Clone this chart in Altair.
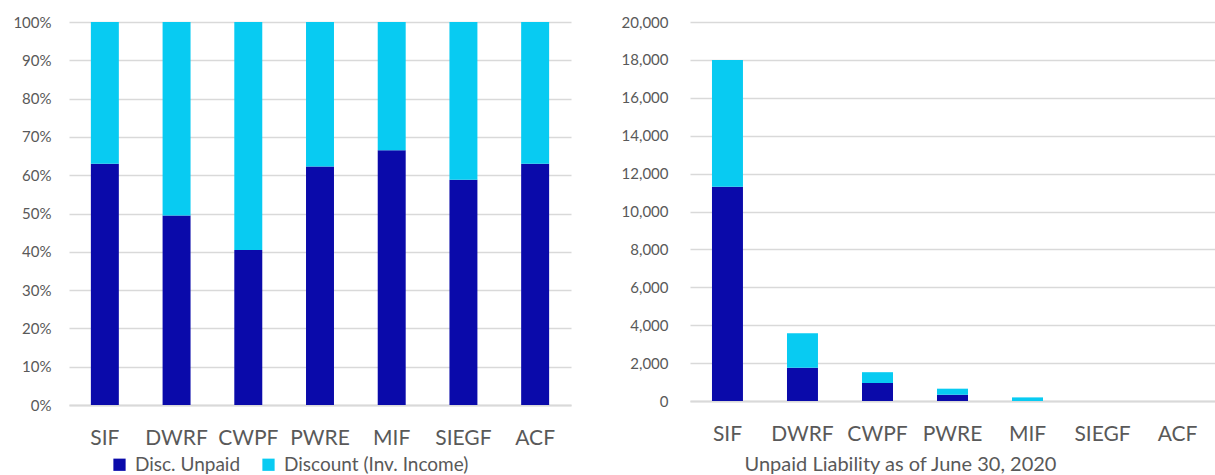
import altair as alt
import pandas as pd

funds = ["SIF", "DWRF", "CWPF", "PWRE", "MIF", "SIEGF", "ACF"]
series = ["Disc. Unpaid", "Discount (Inv. Income)"]

# Left panel: share of discounted unpaid (percent)
disc_unpaid_pct = [63.0, 49.5, 40.5, 62.3, 66.5, 58.8, 63.0]

# Right panel: unpaid liability amounts
disc_unpaid_amt = [11300, 1750, 950, 330, 0, 0, 0]
discount_amt = [6700, 1830, 570, 320, 190, 0, 0]

DARK = "#0A0AAA"
CYAN = "#08CBF2"
GRID = "#D9D9D9"
TXT = "#595959"
FONT = "Lato"

left_rows = []
for i, f in enumerate(funds):
    left_rows.append({"fund": f, "series": series[0], "val": disc_unpaid_pct[i] / 100, "ord": 0})
    left_rows.append({"fund": f, "series": series[1], "val": (100 - disc_unpaid_pct[i]) / 100, "ord": 1})
left_df = pd.DataFrame(left_rows)

right_rows = []
for i, f in enumerate(funds):
    right_rows.append({"fund": f, "series": series[0], "val": disc_unpaid_amt[i], "ord": 0})
    right_rows.append({"fund": f, "series": series[1], "val": discount_amt[i], "ord": 1})
right_df = pd.DataFrame(right_rows)

color_scale = alt.Scale(domain=series, range=[DARK, CYAN])

def xaxis(title=None, **kw):
    return alt.Axis(title=title, labelAngle=0, labelFontSize=21, labelColor=TXT, labelFont=FONT,
                    labelPadding=22, ticks=False, domainColor=GRID, domainWidth=2, grid=False, **kw)

left = alt.Chart(left_df).mark_bar().encode(
    x=alt.X("fund:N", sort=funds,
            scale=alt.Scale(paddingInner=0.61, paddingOuter=0.305),
            axis=xaxis()),
    y=alt.Y("val:Q", stack="zero", scale=alt.Scale(domain=[0, 1], nice=False),
            axis=alt.Axis(title=None, format=".0%", values=[i / 10 for i in range(11)],
                          labelFontSize=15, labelColor=TXT, labelFont=FONT, labelPadding=18,
                          ticks=False, domain=False, gridColor=GRID, gridWidth=1.5)),
    color=alt.Color("series:N", scale=color_scale,
                    legend=alt.Legend(title=None, orient="none", legendX=41, legendY=433,
                                      direction="horizontal", symbolType="square", symbolSize=150,
                                      symbolStrokeWidth=0, labelFontSize=19, labelColor=TXT,
                                      labelFont=FONT, columnPadding=18, labelOffset=6,
                                      labelLimit=0)),
    order=alt.Order("ord:Q"),
).properties(width=502, height=383)

right = alt.Chart(right_df).mark_bar().encode(
    x=alt.X("fund:N", sort=funds,
            scale=alt.Scale(paddingInner=0.587, paddingOuter=0.293),
            axis=xaxis(title="Unpaid Liability as of June 30, 2020", titleFontSize=20,
                       titleColor=TXT, titleFont=FONT, titleFontWeight="normal",
                       titleX=210, titleY=63, titleAlign="center", titleBaseline="middle")),
    y=alt.Y("val:Q", stack="zero", scale=alt.Scale(domain=[0, 20000], nice=False),
            axis=alt.Axis(title=None, format=",.0f", values=list(range(0, 20001, 2000)),
                          labelFontSize=15, labelColor=TXT, labelFont=FONT, labelPadding=22,
                          ticks=False, domain=False, gridColor=GRID, gridWidth=1.5)),
    color=alt.Color("series:N", scale=color_scale, legend=None),
    order=alt.Order("ord:Q"),
).properties(width=525, height=379)

chart = alt.hconcat(left, right, spacing=50).resolve_legend(color="independent").properties(
    padding={"left": 12, "top": 15, "right": 0, "bottom": 0}
).configure_view(stroke=None)

chart.save("out.html", embed_options={"renderer": "svg", "actions": False})
